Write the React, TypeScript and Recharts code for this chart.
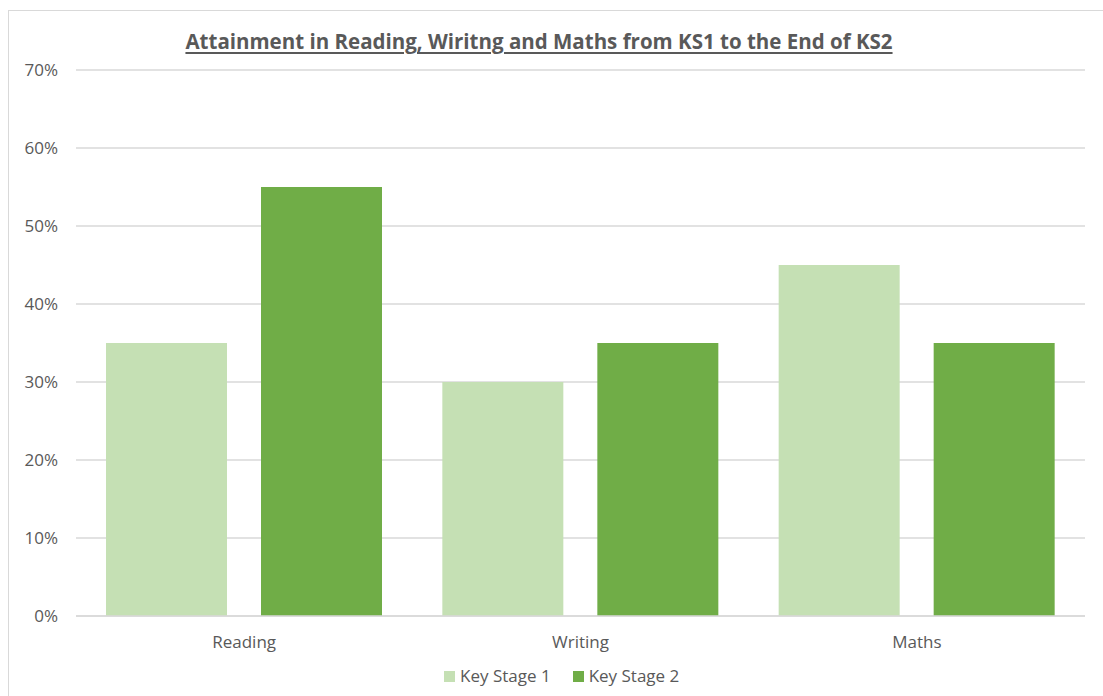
import React from "react";
import { BarChart, Bar, XAxis, YAxis, CartesianGrid } from "recharts";

const subjects = ["Reading", "Writing", "Maths"];
const keyStage1 = [0.35, 0.3, 0.45];
const keyStage2 = [0.55, 0.35, 0.35];
const yTicks = [0, 0.1, 0.2, 0.3, 0.4, 0.5, 0.6, 0.7];

const series = [
  { key: "ks1", name: "Key Stage 1", color: "#c5e0b4" },
  { key: "ks2", name: "Key Stage 2", color: "#70ad47" },
];

const data = subjects.map((name, i) => ({
  name,
  ks1: keyStage1[i],
  ks2: keyStage2[i],
}));

const FONT = "'Open Sans', 'Noto Sans', sans-serif";
const TEXT = "#595959";
const LABEL_SIZE = 17;

export default function App() {
  return (
    <div
      style={{
        position: "absolute",
        left: 0,
        top: 0,
        width: 1103,
        height: 696,
        background: "#fff",
        overflow: "hidden",
        fontFamily: FONT,
      }}
    >
      {/* chart frame, runs off the right and bottom edges */}
      <div
        style={{
          position: "absolute",
          left: 8,
          top: 10,
          width: 1110,
          height: 700,
          border: "1px solid #d9d9d9",
        }}
      />
      <div
        style={{
          position: "absolute",
          left: 0,
          top: 27,
          width: 1078,
          textAlign: "center",
          fontSize: 20.5,
          fontWeight: 700,
          color: TEXT,
          textDecoration: "underline",
          textUnderlineOffset: 3,
          whiteSpace: "nowrap",
        }}
      >
        Attainment in Reading, Wiritng and Maths from KS1 to the End of KS2
      </div>
      <div style={{ position: "absolute", left: 0, top: 0 }}>
        <BarChart
          width={1103}
          height={696}
          data={data}
          margin={{ top: 70, right: 18, bottom: 50, left: 0 }}
          barCategoryGap={30}
          barGap={34}
        >
          <CartesianGrid vertical={false} stroke="#d9d9d9" strokeWidth={1.5} />
          <XAxis
            dataKey="name"
            height={30}
            tickLine={false}
            axisLine={{ stroke: "#d9d9d9", strokeWidth: 1.5 }}
            tickSize={0}
            tickMargin={20}
            tick={{ fill: TEXT, fontSize: LABEL_SIZE, fontFamily: FONT }}
          />
          <YAxis
            width={76}
            domain={[0, 0.7]}
            ticks={yTicks}
            tickFormatter={(v: number) => `${Math.round(v * 100)}%`}
            axisLine={false}
            tickLine={false}
            tickSize={0}
            tickMargin={18}
            tick={{ fill: TEXT, fontSize: LABEL_SIZE, fontFamily: FONT }}
          />
          {series.map((s) => (
            <Bar
              key={s.key}
              dataKey={s.key}
              name={s.name}
              fill={s.color}
              isAnimationActive={false}
            />
          ))}
        </BarChart>
      </div>
      {/* legend below the category labels */}
      <div
        style={{
          position: "absolute",
          left: 444,
          top: 665,
          display: "flex",
          alignItems: "center",
          fontSize: LABEL_SIZE,
          color: TEXT,
          lineHeight: "22px",
        }}
      >
        {series.map((s) => (
          <div
            key={s.key}
            style={{ display: "flex", alignItems: "center", marginRight: 22 }}
          >
            <span
              style={{
                display: "inline-block",
                width: 11,
                height: 11,
                background: s.color,
                marginRight: 5,
              }}
            />
            <span>{s.name}</span>
          </div>
        ))}
      </div>
    </div>
  );
}
